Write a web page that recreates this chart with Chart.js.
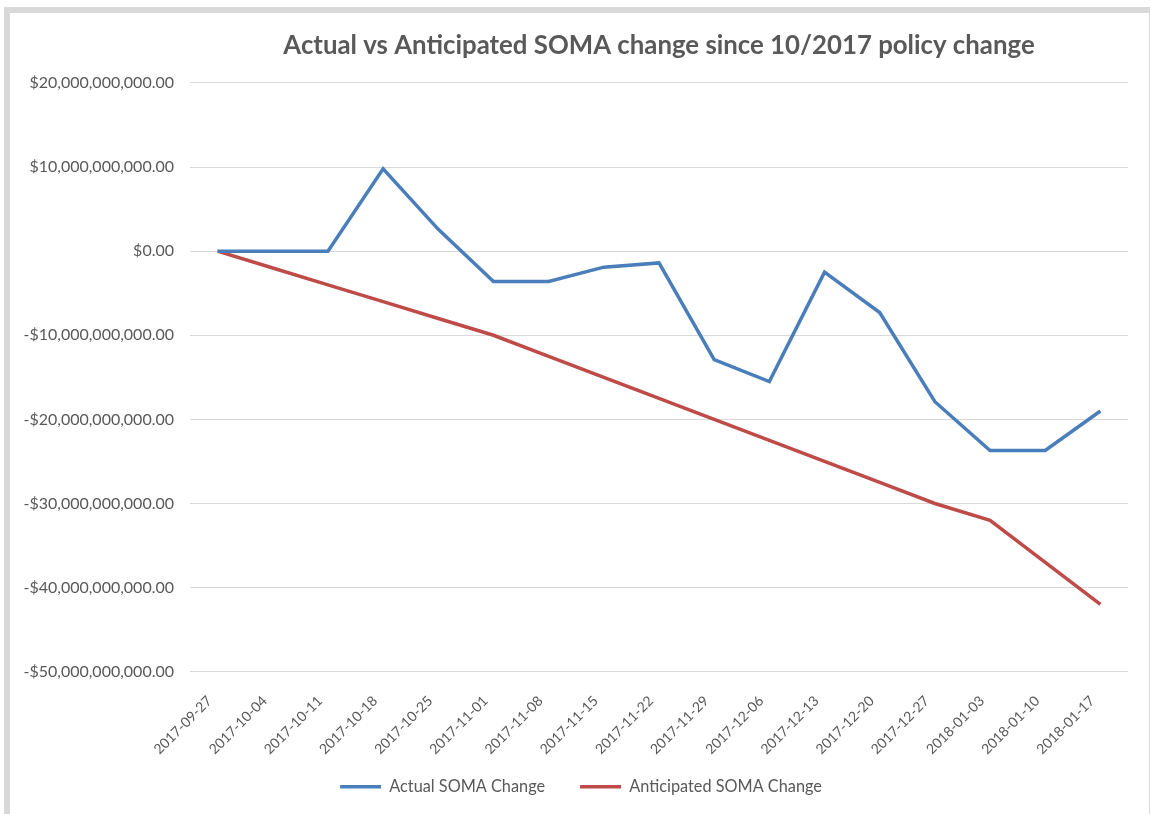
<!DOCTYPE html>
<html><head><meta charset="utf-8">
<script src="https://cdn.jsdelivr.net/npm/chart.js@4/dist/chart.umd.min.js"></script>
<style>
html,body{margin:0;padding:0;background:#fff;width:1151px;height:814px;overflow:hidden;}
#frame{position:absolute;left:4px;top:7px;width:1146px;height:807px;border-left:6px solid #d9d9d9;border-top:6px solid #d9d9d9;border-right:1px solid #d9d9d9;box-sizing:border-box;}
#wrap{position:absolute;left:0;top:0;width:1151px;height:814px;}
</style></head><body>
<div id="frame"></div>
<div id="wrap"><canvas id="c" width="1151" height="814"></canvas></div>
<script>
const categories = ['2017-09-27','2017-10-04','2017-10-11','2017-10-18','2017-10-25','2017-11-01','2017-11-08','2017-11-15','2017-11-22','2017-11-29','2017-12-06','2017-12-13','2017-12-20','2017-12-27','2018-01-03','2018-01-10','2018-01-17'];
const actualSOMA = [0, 0, 0, 9.8e9, 2.6e9, -3.6e9, -3.6e9, -1.9e9, -1.4e9, -12.9e9, -15.5e9, -2.5e9, -7.3e9, -17.9e9, -23.7e9, -23.7e9, -19.0e9];
const anticipatedSOMA = [0, -2e9, -4e9, -6e9, -8e9, -10e9, -12.5e9, -15e9, -17.5e9, -20e9, -22.5e9, -25e9, -27.5e9, -30e9, -32e9, -37e9, -42e9];
const seriesNames = ['Actual SOMA Change', 'Anticipated SOMA Change'];
const yTicks = [20e9, 10e9, 0, -10e9, -20e9, -30e9, -40e9, -50e9];
const titleText = 'Actual vs Anticipated SOMA change since 10/2017 policy change';

const FONT = 'Lato, "Open Sans", sans-serif';
const TXT = '#595959';
function money(v){
  const s = Math.abs(v).toLocaleString('en-US',{minimumFractionDigits:2, maximumFractionDigits:2});
  return (v < 0 ? '-$' : '$') + s;
}
new Chart(document.getElementById('c'), {
  type: 'line',
  data: {
    labels: categories,
    datasets: [
      {label: seriesNames[0], data: actualSOMA, borderColor: '#4a7ebb', backgroundColor: '#4a7ebb', borderWidth: 3.5, pointRadius: 0, tension: 0},
      {label: seriesNames[1], data: anticipatedSOMA, borderColor: '#be4b48', backgroundColor: '#be4b48', borderWidth: 3.5, pointRadius: 0, tension: 0}
    ]
  },
  options: {
    responsive: false,
    animation: false,
    layout: {padding: {left: 34, right: 23, top: 0, bottom: 9}},
    plugins: {
      title: {display: true, text: titleText, color: TXT, fullSize: false,
        font: {family: FONT, size: 25.8, weight: 'bold'}, padding: {top: 30, bottom: 22}},
      legend: {position: 'bottom',
        labels: {usePointStyle: true, pointStyle: 'line', pointStyleWidth: 41, color: TXT,
          font: {family: FONT, size: 16.3}, padding: 35}},
      tooltip: {enabled: false}
    },
    scales: {
      x: {
        offset: true,
        grid: {display: false},
        border: {display: false},
        ticks: {color: TXT, font: {family: FONT, size: 14}, minRotation: 45, maxRotation: 45, autoSkip: false, padding: 13, labelOffset: -8},
        afterFit: s => { s.height = 72; s._computeLabelArea = () => undefined; }
      },
      y: {
        min: -50e9, max: 20e9,
        afterBuildTicks: s => { s.ticks = yTicks.map(v => ({value: v})); },
        grid: {color: '#d9d9d9', lineWidth: 1, drawTicks: false},
        border: {display: false},
        ticks: {color: TXT, font: {family: FONT, size: 16}, padding: 16, callback: v => money(v)},
        afterFit: s => { s.width = 156; s._computeLabelArea = () => undefined; }
      }
    }
  }
});
</script>
</body></html>
